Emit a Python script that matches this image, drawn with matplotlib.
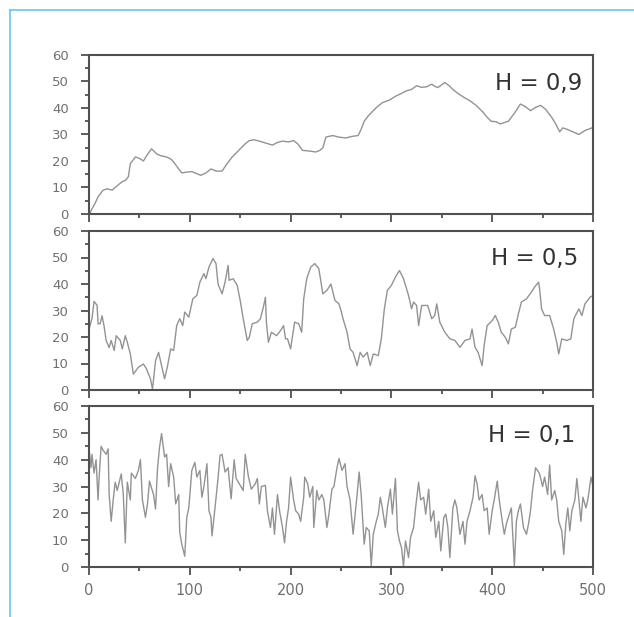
import matplotlib
matplotlib.use("Agg")
import matplotlib.pyplot as plt
from matplotlib.lines import Line2D
from matplotlib.ticker import MultipleLocator

plt.rcParams['font.family'] = ['DejaVu Sans']

# ---- data ----
x_h09 = [0, 1, 3, 6, 9, 14, 18, 23, 26, 29, 33, 36, 39, 41, 44, 46, 50, 54, 58, 62, 65, 67, 71, 77,
         81, 84, 88, 92, 97, 102, 107, 111, 116, 121, 126, 132, 137, 142, 146, 150, 155, 159, 164,
         169, 175, 182, 187, 192, 198, 203, 207, 212, 218, 225, 229, 232, 235, 238, 242, 248, 255,
         261, 267, 270, 273, 277, 282, 286, 291, 298, 305, 310, 315, 320, 325, 330, 335, 340, 343,
         346, 350, 353, 357, 361, 366, 372, 378, 384, 391, 395, 399, 404, 408, 412, 416, 422, 428,
         433, 438, 443, 448, 453, 459, 463, 467, 470, 474, 480, 486, 492, 499, 500]
y_h09 = [0.0, 0.3, 2.0, 4.0, 6.5, 9.0, 9.5, 9.0, 10.0, 11.0, 12.2, 12.7, 14.0, 19.0, 20.5, 21.5, 21.0,
         20.0, 22.5, 24.6, 23.5, 22.7, 22.0, 21.5, 20.8, 19.6, 17.5, 15.5, 15.8, 16.0, 15.2, 14.6,
         15.5, 17.0, 16.2, 16.2, 19.0, 21.5, 23.0, 24.6, 26.5, 27.7, 28.0, 27.5, 26.8, 26.0, 27.0,
         27.5, 27.2, 27.7, 26.5, 24.0, 23.8, 23.4, 24.0, 25.0, 29.0, 29.3, 29.6, 29.0, 28.7, 29.3,
         29.6, 32.0, 35.0, 37.0, 39.0, 40.5, 42.0, 43.0, 44.6, 45.5, 46.5, 47.0, 48.4, 47.8, 48.0,
         49.0, 48.2, 47.7, 48.8, 49.6, 48.5, 47.0, 45.5, 44.0, 42.7, 41.0, 38.4, 36.5, 35.0, 34.8,
         34.0, 34.5, 35.0, 38.0, 41.5, 40.5, 39.0, 40.2, 41.0, 39.5, 36.5, 34.0, 31.0, 32.5, 32.0,
         31.0, 30.0, 31.5, 32.5, 33.0]

x_h05 = [0, 3, 5, 8, 9, 11, 13, 15, 17, 20, 22, 25, 27, 31, 33, 36, 38, 41, 44, 49, 54, 57, 61, 63,
         66, 69, 72, 75, 78, 81, 84, 87, 90, 93, 95, 99, 103, 107, 110, 114, 116, 119, 123, 126, 128,
         132, 135, 138, 139, 143, 147, 150, 153, 157, 159, 162, 167, 170, 173, 175, 176, 178, 181,
         186, 190, 193, 195, 197, 200, 204, 208, 211, 213, 216, 220, 224, 228, 232, 236, 240, 244,
         248, 250, 252, 256, 259, 262, 266, 269, 272, 276, 279, 282, 287, 290, 293, 296, 300, 304,
         308, 312, 317, 320, 322, 325, 327, 330, 336, 340, 343, 345, 348, 353, 358, 363, 368, 373,
         378, 380, 383, 386, 390, 392, 395, 400, 403, 406, 409, 413, 416, 419, 423, 426, 429, 434,
         439, 442, 446, 447, 449, 452, 457, 461, 464, 466, 469, 474, 478, 481, 486, 489, 492, 497,
         500]
y_h05 = [23.0, 27.0, 33.4, 32.0, 25.0, 25.0, 28.0, 24.0, 18.7, 16.0, 18.7, 14.9, 20.5, 18.7, 15.5,
         20.5, 18.0, 13.6, 6.0, 8.6, 9.8, 8.0, 4.2, 0.3, 11.0, 14.2, 9.2, 4.2, 9.2, 15.5, 14.9, 24.3,
         26.9, 24.3, 29.4, 27.5, 34.4, 35.7, 40.7, 43.9, 42.0, 46.4, 49.6, 47.7, 40.0, 36.3, 40.7,
         47.0, 41.4, 42.0, 39.5, 33.8, 26.9, 18.7, 19.9, 25.0, 25.6, 26.9, 31.3, 35.0, 25.6, 18.0,
         21.8, 20.5, 22.4, 24.3, 19.3, 19.3, 15.5, 25.6, 25.0, 21.8, 34.4, 42.0, 46.4, 47.7, 45.8,
         36.3, 37.6, 40.0, 33.8, 32.5, 30.0, 26.9, 21.8, 15.5, 14.2, 9.2, 14.2, 12.4, 14.2, 9.2, 13.6,
         13.0, 19.3, 30.6, 37.6, 39.5, 42.6, 45.1, 42.0, 35.7, 30.6, 33.2, 31.9, 24.3, 31.9, 31.9,
         26.9, 28.1, 32.5, 25.6, 21.8, 19.3, 18.7, 16.1, 18.7, 19.3, 23.0, 16.1, 14.2, 9.2, 16.8,
         24.3, 26.2, 28.1, 25.6, 21.8, 19.9, 17.4, 23.0, 23.7, 28.8, 33.2, 34.4, 37.0, 38.8, 40.7,
         38.2, 30.6, 28.1, 28.1, 23.0, 18.0, 13.6, 19.3, 18.7, 19.3, 26.9, 30.6, 28.1, 32.5, 35.0,
         35.7]

x_h01 = [0, 2, 3, 5, 7, 9, 10, 12, 14, 17, 19, 20, 22, 24, 26, 28, 32, 34, 36, 38, 41, 42, 46, 49,
         51, 53, 56, 58, 60, 64, 66, 68, 70, 72, 75, 77, 79, 81, 84, 86, 89, 90, 92, 95, 97, 99, 102,
         105, 107, 110, 112, 114, 117, 119, 121, 122, 125, 128, 130, 132, 135, 138, 141, 144, 146,
         150, 153, 155, 158, 161, 165, 167, 169, 171, 175, 177, 180, 182, 184, 187, 189, 192, 194,
         196, 198, 200, 203, 205, 208, 210, 213, 214, 217, 219, 222, 223, 226, 228, 231, 233, 236,
         238, 241, 243, 246, 248, 251, 254, 256, 259, 262, 264, 266, 268, 270, 273, 275, 278, 280,
         282, 285, 287, 289, 291, 294, 296, 299, 301, 304, 306, 308, 310, 312, 314, 317, 319, 322,
         324, 327, 329, 332, 334, 337, 339, 342, 344, 347, 349, 352, 354, 356, 358, 361, 363, 365,
         368, 371, 373, 375, 378, 381, 383, 385, 387, 390, 392, 395, 397, 400, 402, 405, 407, 410,
         412, 414, 417, 419, 422, 424, 426, 428, 431, 434, 436, 438, 440, 443, 445, 447, 450, 452,
         455, 457, 459, 462, 464, 466, 469, 471, 473, 475, 477, 479, 482, 484, 486, 488, 490, 493,
         495, 498, 500]
y_h01 = [44.0, 37.0, 42.0, 35.0, 40.0, 25.0, 33.0, 45.0, 43.5, 42.0, 44.0, 27.0, 17.0, 25.0, 31.6,
         28.5, 34.7, 27.2, 9.0, 31.6, 25.0, 35.0, 33.0, 36.0, 40.0, 25.0, 18.5, 23.5, 32.0, 27.0,
         21.6, 37.0, 44.7, 49.7, 41.0, 42.0, 30.0, 38.5, 33.5, 23.5, 27.0, 13.0, 8.5, 4.0, 18.5, 22.0,
         36.0, 39.0, 33.5, 36.0, 26.0, 30.0, 38.5, 21.0, 18.5, 11.6, 22.0, 33.0, 41.6, 42.0, 35.4,
         37.0, 25.4, 40.0, 33.0, 30.4, 28.5, 42.0, 34.0, 29.0, 31.0, 33.0, 23.5, 30.0, 30.4, 21.0,
         14.7, 22.0, 12.2, 27.0, 21.0, 14.7, 9.0, 17.0, 22.0, 33.5, 25.0, 21.0, 19.7, 17.0, 26.0,
         33.5, 31.0, 26.0, 30.0, 14.7, 28.5, 25.0, 27.0, 25.0, 14.7, 19.7, 29.0, 30.0, 37.0, 40.4,
         36.0, 38.5, 30.0, 25.0, 12.2, 19.7, 27.0, 35.4, 27.0, 8.5, 14.7, 13.5, 0.4, 12.2, 17.0,
         19.7, 26.0, 22.0, 14.7, 22.0, 29.0, 19.7, 33.0, 13.5, 9.7, 7.2, 0.4, 9.7, 3.5, 11.0, 14.7,
         22.0, 31.6, 25.0, 26.0, 19.7, 29.0, 17.0, 21.0, 11.0, 17.0, 6.0, 18.5, 19.7, 14.7, 3.5,
         22.0, 25.0, 22.0, 12.2, 17.0, 8.5, 17.0, 21.0, 26.0, 34.0, 31.0, 25.0, 27.0, 21.0, 22.0,
         12.2, 21.0, 25.0, 32.0, 25.0, 17.0, 12.2, 16.0, 19.7, 22.0, 0.4, 17.0, 21.0, 23.5, 14.7,
         12.2, 16.0, 21.0, 28.5, 37.0, 36.0, 34.7, 30.0, 33.5, 27.0, 38.0, 25.0, 28.5, 25.0, 17.0,
         13.5, 4.7, 16.0, 22.0, 13.5, 21.0, 25.0, 33.0, 25.0, 17.0, 26.0, 22.0, 25.4, 33.5, 30.0]

labels = ["H = 0,9", "H = 0,5", "H = 0,1"]
x_ticks = [0, 100, 200, 300, 400, 500]
y_ticks = [0, 10, 20, 30, 40, 50, 60]

series = [(x_h09, y_h09), (x_h05, y_h05), (x_h01, y_h01)]

# ---- figure ----
fig = plt.figure(figsize=(6.34, 6.17), dpi=100)
W, H = 634, 617

panels_px = [(55, 214), (231, 390), (406, 567)]
left_px, right_px = 89, 593
label_pos = [(0.978, 0.818), (0.970, 0.824), (0.964, 0.814)]

spine_col = "#505050"
tick_col = "#707070"
axes = []
for i, ((top, bot), (xs, ys)) in enumerate(zip(panels_px, series)):
    ax = fig.add_axes([left_px / W, 1 - bot / H, (right_px - left_px) / W, (bot - top) / H])
    ax.plot(xs, ys, color="#939393", lw=1.0)
    ax.set_xlim(0, 500)
    ax.set_ylim(0, 60)
    ax.set_xticks(x_ticks)
    ax.set_yticks(y_ticks)
    ax.xaxis.set_minor_locator(MultipleLocator(50))
    ax.yaxis.set_minor_locator(MultipleLocator(5))
    ax.tick_params(axis="both", which="major", direction="out", length=5.5, width=1.3,
                   color=spine_col, labelcolor=tick_col)
    ax.tick_params(axis="both", which="minor", direction="out", length=3, width=1.3,
                   color=spine_col)
    ax.tick_params(axis="y", which="major", labelsize=9.5, pad=9)
    ax.tick_params(axis="x", which="major", labelsize=10.5, pad=6)
    if i < 2:
        ax.tick_params(axis="x", which="both", labelbottom=False)
    for sp in ax.spines.values():
        sp.set_color(spine_col)
        sp.set_linewidth(1.5)
    ax.text(label_pos[i][0], label_pos[i][1], labels[i], transform=ax.transAxes,
            ha="right", va="center", fontsize=16.5, color="#333333")
    axes.append(ax)

# light blue frame lines
fig.add_artist(Line2D([10 / W, 1.0], [1 - 10 / H, 1 - 10 / H], transform=fig.transFigure,
                      color="#5ccaf2", lw=1.2))
fig.add_artist(Line2D([10 / W, 10 / W], [0.0, 1 - 10 / H], transform=fig.transFigure,
                      color="#5ccaf2", lw=1.2))

fig.savefig("out.png", dpi=100)
